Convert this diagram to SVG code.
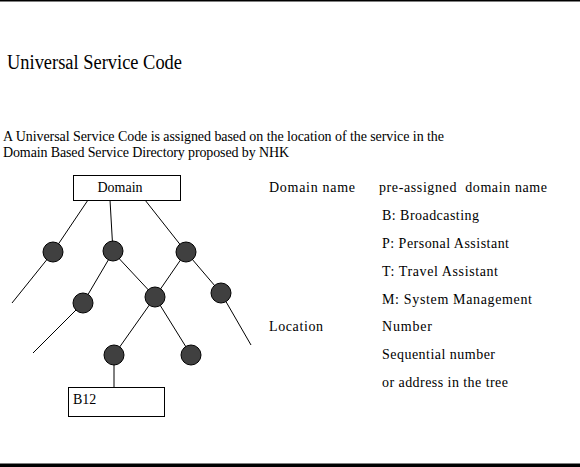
<svg xmlns="http://www.w3.org/2000/svg" width="580" height="467" viewBox="0 0 580 467">
<style>
text{font-family:"Liberation Serif","Times New Roman",serif;fill:#000}
.t{font-size:14px}
.n{fill:#404040;stroke:#000;stroke-width:1}
.b{fill:#fff;stroke:#000;stroke-width:1}
.c line{stroke:#000;stroke-width:1}
</style>
<rect width="580" height="467" fill="#fff"/>
<rect x="0" y="0" width="580" height="1.5" fill="#000"/>
<rect x="0" y="463.5" width="580" height="3.5" fill="#000"/>
<text x="7" y="69" font-size="20" textLength="175" lengthAdjust="spacingAndGlyphs">Universal Service Code</text>
<text class="t" x="3" y="141" textLength="441" lengthAdjust="spacing">A Universal Service Code is assigned based on the location of the service in the</text>
<text class="t" x="3" y="157" textLength="286" lengthAdjust="spacing">Domain Based Service Directory proposed by NHK</text>
<g class="c">
<line x1="88" y1="200" x2="53" y2="252"/>
<line x1="110" y1="200" x2="113" y2="252"/>
<line x1="145" y1="200" x2="186" y2="252"/>
<line x1="53" y1="252" x2="12" y2="303"/>
<line x1="113" y1="252" x2="83" y2="303"/>
<line x1="113" y1="252" x2="155" y2="297"/>
<line x1="186" y1="252" x2="155" y2="297"/>
<line x1="186" y1="252" x2="221" y2="293"/>
<line x1="83" y1="303" x2="33" y2="353"/>
<line x1="155" y1="297" x2="114" y2="355"/>
<line x1="155" y1="297" x2="191" y2="355"/>
<line x1="221" y1="293" x2="251" y2="345"/>
<line x1="114" y1="355" x2="114" y2="387"/>
</g>
<g id="domain"><rect class="b" x="73.5" y="175.5" width="107" height="25"/><text class="t" x="120" y="192" text-anchor="middle">Domain</text></g>
<g id="n1"><circle class="n" cx="53" cy="252" r="10"/></g>
<g id="n2"><circle class="n" cx="113" cy="251" r="10"/></g>
<g id="n3"><circle class="n" cx="186" cy="252" r="10"/></g>
<g id="n4"><circle class="n" cx="83" cy="303" r="10"/></g>
<g id="n5"><circle class="n" cx="155" cy="297" r="10"/></g>
<g id="n6"><circle class="n" cx="221" cy="293" r="10"/></g>
<g id="n7"><circle class="n" cx="114" cy="355" r="10"/></g>
<g id="n8"><circle class="n" cx="191" cy="355" r="10"/></g>
<g id="b12"><rect class="b" x="68.5" y="387.5" width="96" height="29"/><text class="t" x="73" y="404">B12</text></g>
<g id="legend" class="t">
<text class="t" x="269" y="192" textLength="86" lengthAdjust="spacing">Domain name</text>
<text class="t" x="379" y="192" textLength="168" lengthAdjust="spacing" xml:space="preserve">pre-assigned  domain name</text>
<text class="t" x="382" y="220" textLength="97" lengthAdjust="spacing">B: Broadcasting</text>
<text class="t" x="382" y="248" textLength="127" lengthAdjust="spacing">P: Personal Assistant</text>
<text class="t" x="382" y="276" textLength="116" lengthAdjust="spacing">T: Travel Assistant</text>
<text class="t" x="382" y="304" textLength="150" lengthAdjust="spacing">M: System Management</text>
<text class="t" x="269" y="331" textLength="54" lengthAdjust="spacing">Location</text>
<text class="t" x="382" y="331" textLength="50" lengthAdjust="spacing">Number</text>
<text class="t" x="382" y="359" textLength="113" lengthAdjust="spacing">Sequential number</text>
<text class="t" x="382" y="387" textLength="126" lengthAdjust="spacing">or address in the tree</text>
</g>
</svg>
